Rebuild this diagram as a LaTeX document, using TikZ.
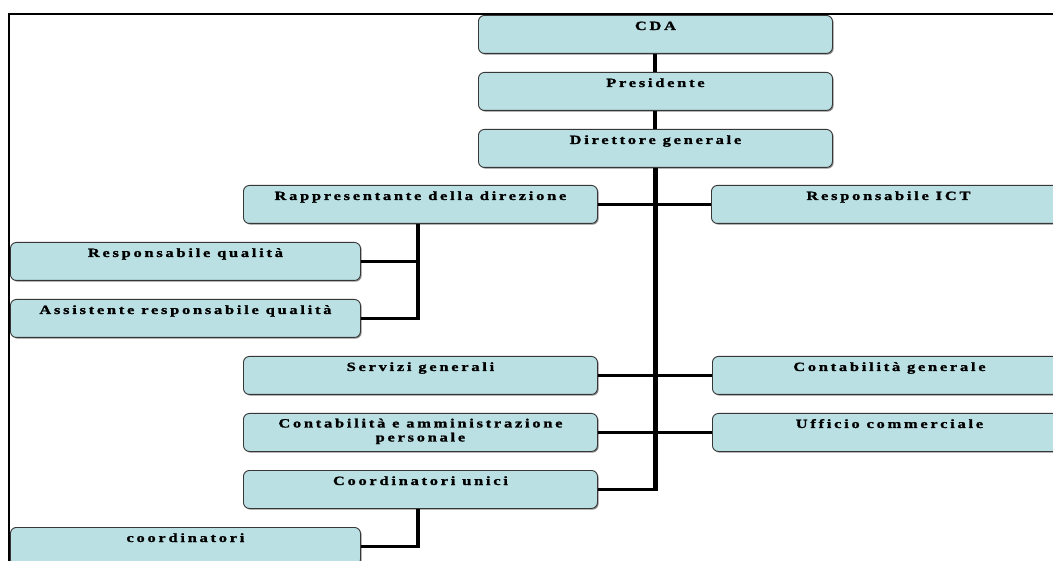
\documentclass[tikz,border=0pt]{standalone}
\usepackage{fontspec}
\newfontfamily\orgfont[LetterSpace=22, FakeStretch=1.3, FakeBold=1.4]{Liberation Serif}
\usetikzlibrary{shadows}
\definecolor{boxfill}{RGB}{186,224,228}
\definecolor{boxline}{RGB}{55,55,55}
\tikzset{
  orgbox/.style={draw=boxline, line width=0.9pt, fill=boxfill, rounded corners=6pt,
    anchor=north west, inner sep=0pt, minimum height=38pt,
    drop shadow={shadow xshift=1.2pt, shadow yshift=-1.2pt, fill=black, opacity=0.45}},
  wide/.style={minimum width=354pt},
  lbl/.style={font=\orgfont\bfseries\fontsize{12.6}{14}\selectfont, anchor=base, inner sep=0pt},
  trunk/.style={line width=5.5pt},
  stem/.style={line width=4pt},
  branch/.style={line width=2.6pt},
}
\begin{document}
\begin{tikzpicture}[x=1pt, y=-1pt, line join=miter]
\clip (0,0) rectangle (1053,561);
\fill[white] (0,0) rectangle (1053,561);

% boxes
\node[orgbox, wide] (cda)  at (478,15)  {};
\node[orgbox, wide] (pres) at (478,72)  {};
\node[orgbox, wide] (dg)   at (478,129) {};
\node[orgbox, wide] (rapp) at (243,185) {};
\node[orgbox, wide] (ict)  at (711,185) {};
\node[orgbox, minimum width=350pt] (rq)  at (10,242) {};
\node[orgbox, minimum width=350pt] (arq) at (10,299) {};
\node[orgbox, wide] (sg)   at (243,356) {};
\node[orgbox, wide] (cg)   at (712,356) {};
\node[orgbox, wide] (cap)  at (243,413) {};
\node[orgbox, wide] (uc)   at (712,413) {};
\node[orgbox, wide] (cu)   at (243,470) {};
\node[orgbox, minimum width=350pt] (co) at (10,527) {};

% labels
\node[lbl] at ([yshift=-15pt]cda.north)  {CDA};
\node[lbl] at ([yshift=-15pt]pres.north) {Presidente};
\node[lbl] at ([yshift=-15pt]dg.north)   {Direttore generale};
\node[lbl] at ([yshift=-15pt]rapp.north) {Rappresentante della direzione};
\node[lbl] at ([yshift=-15pt]ict.north)  {Responsabile ICT};
\node[lbl] at ([yshift=-15pt]rq.north)   {Responsabile qualità};
\node[lbl] at ([yshift=-15pt]arq.north)  {Assistente responsabile qualità};
\node[lbl] at ([yshift=-15pt]sg.north)   {Servizi generali};
\node[lbl] at ([yshift=-15pt]cg.north)   {Contabilità generale};
\node[lbl, anchor=north, align=center] at ([yshift=-5.5pt]cap.north) {Contabilità e amministrazione\\personale};
\node[lbl] at ([yshift=-15pt]uc.north)   {Ufficio commerciale};
\node[lbl] at ([yshift=-15pt]cu.north)   {Coordinatori unici};
\node[lbl] at ([yshift=-15pt]co.north)   {coordinatori};

% connectors
\draw[stem] (cda.south) -- (pres.north);
\draw[stem] (pres.south) -- (dg.north);
\draw[trunk] (dg.south) -- ([yshift=-1.3pt]dg.south |- cu.east);
\draw[branch] (rapp.east) -- (ict.west);
\draw[branch] (sg.east) -- (sg.east -| cg.west);
\draw[branch] (cap.east) -- (cap.east -| uc.west);
\draw[branch] (cu.east) -- (cu.east -| dg.south);
\draw[stem] ([xshift=-2pt]rapp.south) -- ([xshift=-2pt,yshift=-1.3pt]rapp.south |- arq.east);
\draw[branch] (rq.east) -- (rq.east -| rapp.south);
\draw[branch] (arq.east) -- ([xshift=-2pt]arq.east -| rapp.south);
\draw[stem] ([xshift=-2pt]cu.south) -- ([xshift=-2pt,yshift=-1.3pt]cu.south |- co.east);
\draw[branch] (co.east) -- ([xshift=-2pt]co.east -| cu.south);

% frame
\draw[line width=2pt] (9,561) -- (9,14) -- (1053,14);
\end{tikzpicture}
\end{document}
